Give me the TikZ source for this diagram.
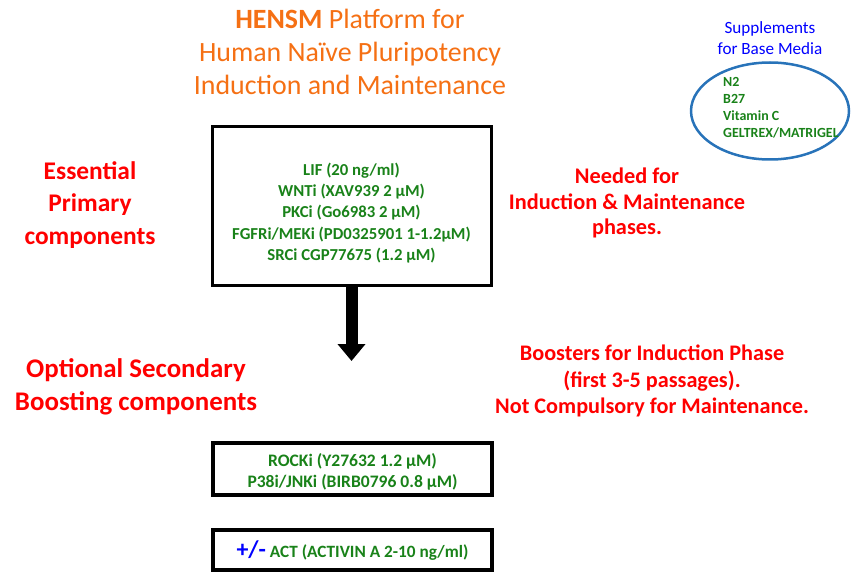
\documentclass[tikz,border=0pt]{standalone}
\usepackage{fontspec}
\setmainfont{Carlito}
\usetikzlibrary{arrows.meta,shapes.geometric}
\definecolor{ttlorange}{RGB}{245,112,20}
\definecolor{lblred}{RGB}{255,0,0}
\definecolor{cmpgreen}{RGB}{25,130,25}
\definecolor{supblue}{RGB}{0,0,255}
\definecolor{ellblue}{RGB}{40,115,185}
\tikzset{
  fs/.style 2 args={font=\fontsize{#1}{#2}\selectfont},
  bfs/.style 2 args={font=\fontsize{#1}{#2}\selectfont\bfseries},
  title/.style={text=ttlorange, align=center, inner sep=0pt},
  redlbl/.style={text=lblred, align=center, inner sep=0pt},
  cmp/.style={text=cmpgreen, align=center, inner sep=0pt},
  frame/.style={draw=black, line width=#1, minimum width=279bp},
}
\begin{document}
\begin{tikzpicture}[x=1bp,y=-1bp]
\useasboundingbox (0,0) rectangle (851,587);
% title
\node[title, fs={28}{33}] (title) at (350,52) {\textbf{HENSM} Platform for\\Human Naïve Pluripotency\\Induction and Maintenance};
% supplements
\node[text=supblue, align=center, inner sep=0pt, fs={17.2}{21}] (supp) at (770,38) {Supplements\\for Base Media};
\node[draw=ellblue, line width=2.5bp, ellipse, minimum width=158bp, minimum height=97bp, inner sep=0pt] (ell) at (770,111) {};
\node[text=cmpgreen, align=left, inner sep=0pt, anchor=west, bfs={14}{17}] (supptext) at (723,108) {N2\\B27\\Vitamin C\\GELTREX/MATRIGEL};
% left labels
\node[redlbl, bfs={25.5}{33}] (ess) at (90,205) {Essential\\Primary\\components};
\node[redlbl, bfs={22.4}{26}] (need) at (627,203) {Needed for\\Induction \& Maintenance\\phases.};
\node[redlbl, bfs={27}{33}] (opt) at (136,387) {Optional Secondary\\Boosting components};
\node[redlbl, bfs={22.3}{27}] (boost) at (652,381) {Boosters for Induction Phase\\(first 3-5 passages).\\Not Compulsory for Maintenance.};
% top box
\node[frame=3bp, minimum height=158bp] (topbox) at (351.5,206) {};
\node[cmp, bfs={16.8}{21.5}] (toptext) at (351.5,213) {LIF (20 ng/ml)\\WNTi (XAV939 2 µM)\\PKCi (Go6983 2 µM)\\FGFRi/MEKi (PD0325901 1-1.2µM)\\SRCi CGP77675 (1.2 µM)};
% arrow
\coordinate (arrowend) at (351.5,361);
\draw[line width=12bp, -{Triangle[width=27bp,length=17bp]}] (topbox.south) -- (arrowend);
% box 2
\node[frame=4bp, minimum height=52bp] (box2) at (352.5,469) {};
\node[cmp, bfs={17.6}{21}] (box2text) at (352.5,471.5) {ROCKi (Y27632 1.2 µM)\\P38i/JNKi (BIRB0796 0.8 µM)};
% box 3
\node[frame=4bp, minimum height=40bp] (box3) at (352.5,550) {};
\node[cmp, bfs={17.3}{21}] (box3text) at (352.5,551) {{\color{supblue}\fontsize{24}{21}\selectfont +/-} ACT (ACTIVIN A 2-10 ng/ml)};
\end{tikzpicture}
\end{document}
